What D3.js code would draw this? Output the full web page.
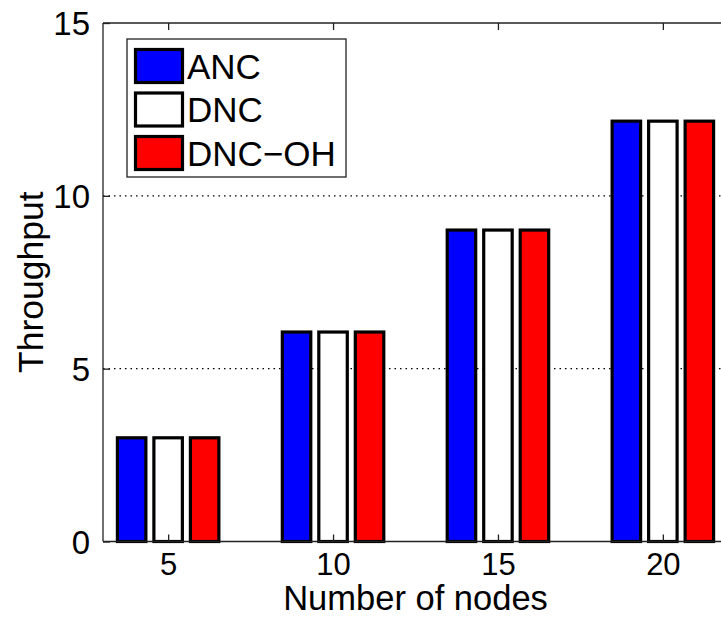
<!DOCTYPE html>
<html>
<head>
<meta charset="utf-8">
<script src="https://cdn.jsdelivr.net/npm/d3@7"></script>
<style>
  html, body { margin: 0; padding: 0; background: #fff; }
  svg { display: block; }
  text { font-family: "Liberation Sans", Arial, Helvetica, sans-serif; fill: #000; }
</style>
</head>
<body>
<svg id="chart" width="721" height="618"></svg>
<script>
// Throughput per network size for the three coding schemes
const nodeCounts = ["5", "10", "15", "20"];
const seriesNames = ["ANC", "DNC", "DNC\u2212OH"];
const ancValues = [3.0, 6.06, 9.01, 12.16];
const dncValues = [3.0, 6.06, 9.01, 12.16];
const dncOhValues = [3.0, 6.06, 9.01, 12.16];
const yTicks = [0, 5, 10, 15];
const seriesColors = ["#0000ff", "#ffffff", "#ff0000"];

const seriesValues = [ancValues, dncValues, dncOhValues];

const svg = d3.select("#chart");
const plot = { left: 103, right: 728, top: 23, bottom: 541.5 };

// Category axis: x limits run from 0.6 to 4.4 category steps
const step = (plot.right - plot.left) / 3.79;
const xCat = d3.scaleLinear().domain([0.605, 4.395]).range([plot.left, plot.right]);
const groupCenter = d => xCat(nodeCounts.indexOf(d) + 1);

const x1 = d3.scaleBand()
  .domain(d3.range(seriesNames.length))
  .range([-step * 0.332, step * 0.332])
  .padding(0);
const barW = x1.bandwidth() * 0.78;

const y = d3.scaleLinear().domain([0, 15]).range([plot.bottom, plot.top]);

// dotted grid at the interior y ticks
svg.append("g")
  .selectAll("line")
  .data(yTicks.filter(t => t > 0 && t < 15))
  .join("line")
  .attr("x1", plot.left).attr("x2", plot.right)
  .attr("y1", d => y(d)).attr("y2", d => y(d))
  .attr("stroke", "#000").attr("stroke-width", 1.2)
  .attr("stroke-dasharray", "1.5,4");

// bars
const groups = svg.append("g")
  .selectAll("g")
  .data(nodeCounts)
  .join("g")
  .attr("transform", d => `translate(${groupCenter(d)},0)`);

groups.selectAll("rect")
  .data((d, gi) => seriesValues.map((vals, si) => ({ si, v: vals[gi] })))
  .join("rect")
  .attr("x", d => x1(d.si) + (x1.bandwidth() - barW) / 2)
  .attr("width", barW)
  .attr("y", d => y(d.v))
  .attr("height", d => y(0) - y(d.v))
  .attr("fill", d => seriesColors[d.si])
  .attr("stroke", "#000")
  .attr("stroke-width", 3.2);

// axes box (the right edge falls outside the view)
const axisColor = "#222";
svg.append("line")
  .attr("x1", plot.left).attr("x2", plot.right)
  .attr("y1", plot.top).attr("y2", plot.top)
  .attr("stroke", axisColor).attr("stroke-width", 1.3);
svg.append("line")
  .attr("x1", plot.left).attr("x2", plot.right)
  .attr("y1", plot.bottom).attr("y2", plot.bottom)
  .attr("stroke", axisColor).attr("stroke-width", 1.3);
svg.append("line")
  .attr("x1", plot.left).attr("x2", plot.left)
  .attr("y1", plot.top).attr("y2", plot.bottom)
  .attr("stroke", axisColor).attr("stroke-width", 1.3);

// y axis: inward ticks with labels on the left
const yAxis = d3.axisLeft(y).tickValues(yTicks).tickSize(-7).tickPadding(13)
  .tickFormat(d3.format("d"));
const gy = svg.append("g").attr("transform", `translate(${plot.left},0)`).call(yAxis);
gy.select(".domain").remove();
gy.selectAll(".tick line").attr("stroke", axisColor).attr("stroke-width", 1.3);
gy.selectAll(".tick text")
  .attr("font-size", 33).attr("font-family", null).attr("dy", "0.36em");

// x axis: inward ticks at bottom and top
const xScalePts = d3.scalePoint().domain(nodeCounts)
  .range([groupCenter(nodeCounts[0]), groupCenter(nodeCounts[nodeCounts.length - 1])]);
const xAxis = d3.axisBottom(xScalePts).tickSize(-7).tickPadding(11);
const gx = svg.append("g").attr("transform", `translate(0,${plot.bottom})`).call(xAxis);
gx.select(".domain").remove();
gx.selectAll(".tick line").attr("stroke", axisColor).attr("stroke-width", 1.3);
gx.selectAll(".tick text")
  .attr("font-size", 31).attr("font-family", null).attr("dy", "0.71em");

const gxTop = svg.append("g").attr("transform", `translate(0,${plot.top})`)
  .call(d3.axisTop(xScalePts).tickSize(-7).tickFormat(""));
gxTop.select(".domain").remove();
gxTop.selectAll(".tick line").attr("stroke", axisColor).attr("stroke-width", 1.3);

// axis titles
svg.append("text")
  .attr("x", (plot.left + plot.right) / 2).attr("y", 610)
  .attr("text-anchor", "middle").attr("font-size", 34.5)
  .text("Number of nodes");
svg.append("text")
  .attr("transform", `translate(43,${(plot.top + plot.bottom) / 2}) rotate(-90)`)
  .attr("text-anchor", "middle").attr("font-size", 35.5)
  .text("Throughput");

// legend
const legend = svg.append("g").attr("transform", "translate(127,39)");
legend.append("rect")
  .attr("width", 219).attr("height", 138)
  .attr("fill", "#fff").attr("stroke", axisColor).attr("stroke-width", 1.3);
const rows = legend.selectAll("g.row")
  .data(seriesNames)
  .join("g").attr("class", "row")
  .attr("transform", (d, i) => `translate(0,${10 + i * 43.5})`);
rows.append("rect")
  .attr("x", 8.5).attr("y", 0.5).attr("width", 47).attr("height", 33)
  .attr("fill", (d, i) => seriesColors[i])
  .attr("stroke", "#000").attr("stroke-width", 3.2);
rows.append("text")
  .attr("x", 60).attr("y", 29.5)
  .attr("font-size", 35)
  .text(d => d);
</script>
</body>
</html>
